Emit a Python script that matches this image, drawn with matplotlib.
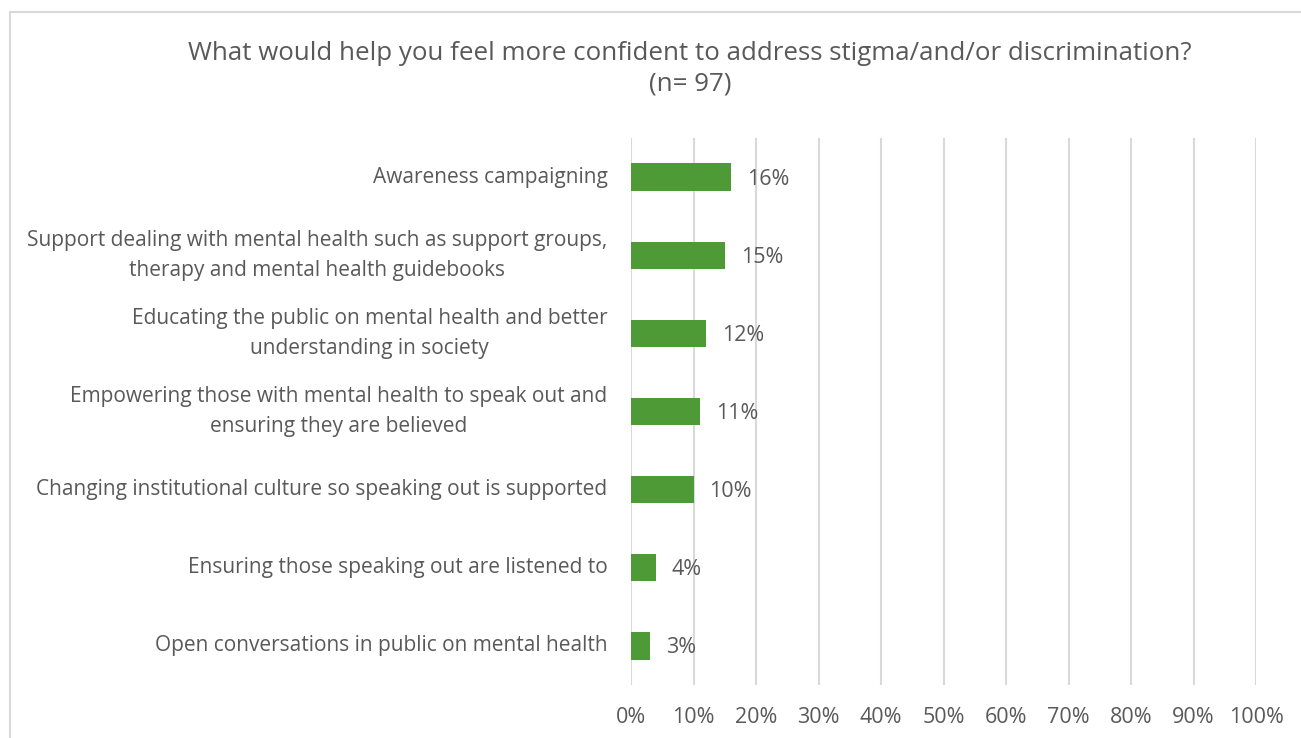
import matplotlib
matplotlib.use("Agg")
import matplotlib.pyplot as plt
from matplotlib.patches import Rectangle
from matplotlib.ticker import FixedLocator
from matplotlib.transforms import ScaledTranslation

plt.rcParams["font.family"] = ["Open Sans", "DejaVu Sans"]

categories = [
    "Awareness campaigning",
    "Support dealing with mental health such as support groups,\ntherapy and mental health guidebooks",
    "Educating the public on mental health and better\nunderstanding in society",
    "Empowering those with mental health to speak out and\nensuring they are believed",
    "Changing institutional culture so speaking out is supported",
    "Ensuring those speaking out are listened to",
    "Open conversations in public on mental health",
]
values = [16, 15, 12, 11, 10, 4, 3]
x_ticks = [0, 10, 20, 30, 40, 50, 60, 70, 80, 90, 100]
title = "What would help you feel more confident to address stigma/and/or discrimination?\n(n= 97)"

text_color = "#595959"
bar_color = "#4E9A37"
grid_color = "#D9D9D9"

W, H = 1301, 738
fig = plt.figure(figsize=(W / 100, H / 100), dpi=100)

# chart frame
fig.patches.append(Rectangle((10 / W, -0.05), (1310 - 10) / W, (H - 12) / H + 0.05,
                             transform=fig.transFigure, fill=False,
                             edgecolor="#D9D9D9", linewidth=1.5))

ax = fig.add_axes([631 / W, 1 - 685 / H, (1256 - 631) / W, (685 - 138) / H])

y = list(range(len(categories)))
ax.barh(y, values, height=0.35, color=bar_color, zorder=3)
ax.set_xlim(0, 100)
ax.set_ylim(len(categories) - 0.5, -0.5)

ax.xaxis.set_major_locator(FixedLocator(x_ticks))
ax.set_xticklabels([f"{t}%" for t in x_ticks])
ax.set_yticks(y)
ax.set_yticklabels(categories, ha="right", va="center", linespacing=1.55)
shift_down = ScaledTranslation(0, -2 / 100, fig.dpi_scale_trans)
for lbl in ax.get_yticklabels():
    lbl.set_multialignment("center")
    lbl.set_transform(lbl.get_transform() + shift_down)
ax.tick_params(axis="both", length=0, colors=text_color)
ax.tick_params(axis="y", pad=17, labelsize=15.0)
ax.tick_params(axis="x", pad=15.5, labelsize=15.5)
ax.grid(axis="x", color=grid_color, linewidth=1.5, zorder=0)
for s in ax.spines.values():
    s.set_visible(False)

for yi, v in zip(y, values):
    ax.annotate(f"{v}%", (v, yi), xytext=(16, -2), textcoords="offset pixels",
                va="center", ha="left", fontsize=15.5, color=text_color, zorder=4)

fig.text(690 / W, 1 - 69 / H, title, ha="center", va="center",
         fontsize=18.6, color=text_color, linespacing=1.3)

fig.savefig("out.png", dpi=100)
